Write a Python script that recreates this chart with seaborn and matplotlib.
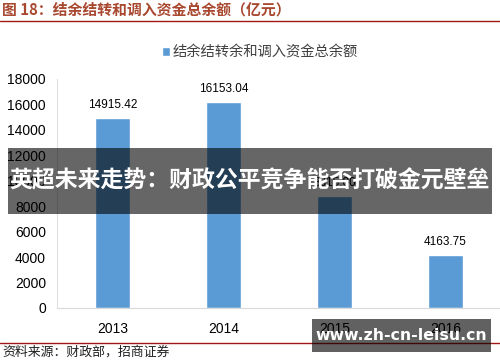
import matplotlib
matplotlib.use("Agg")
import matplotlib.pyplot as plt
import seaborn as sns
import pandas as pd
from matplotlib.patches import Rectangle
from matplotlib.lines import Line2D

years = ["2013", "2014", "2015", "2016"]
values = [14915.42, 16153.04, 8815.00, 4163.75]
series_name = "结余结转余和调入资金总余额"
yticks = [0, 2000, 4000, 6000, 8000, 10000, 12000, 14000, 16000, 18000]
title = "图 18：结余结转和调入资金总余额（亿元）"
source = "资料来源：财政部，招商证券"
banner = "英超未来走势：财政公平竞争能否打破金元壁垒"
watermark = "www.zh-cn-leisu.cn"

sns.set_theme(style="white")
plt.rcParams['font.family'] = ['Liberation Sans', 'Noto Sans CJK SC', 'DejaVu Sans']
CJK = ['Noto Sans CJK SC', 'DejaVu Sans']

df = pd.DataFrame({"year": years, "value": values, "series": [series_name] * len(years)})

fig = plt.figure(figsize=(5.0, 3.62), dpi=100)
ax = fig.add_axes([0.114, 0.1492, 0.886, 0.6326])

bar_color = "#5b9bd5"
sns.barplot(data=df, x="year", y="value", hue="series", palette=[bar_color],
            width=0.31, dodge=False, ax=ax, legend=True, saturation=1)

ax.set_xlim(-0.5, 3.49)
ax.set_ylim(0, 18000)
ax.set_yticks(yticks)
ax.set_yticklabels([str(v) for v in yticks], fontsize=10, color="#000000")
ax.set_xlabel("")
ax.set_ylabel("")
ax.tick_params(axis="x", length=0, labelsize=10, pad=10, colors="#000000")
ax.tick_params(axis="y", length=0, pad=8)
ax.set_xticks([-0.5, 0.5, 1.5, 2.5], minor=True)
ax.tick_params(axis="x", which="minor", length=4, width=0.8, color="#d9d9d9", direction="out")
for s in ["top", "right"]:
    ax.spines[s].set_visible(False)
ax.spines["left"].set_color("#e0e0e0")
ax.spines["bottom"].set_color("#d9d9d9")
ax.spines["left"].set_linewidth(0.8)
ax.spines["bottom"].set_linewidth(0.8)

for i, v in enumerate(values):
    ax.text(i, v + 550, f"{v:.2f}", ha="center", va="bottom", fontsize=8.5, color="#000000")

leg = ax.legend(loc="center", bbox_to_anchor=(0.458, 1.114), frameon=False,
                handlelength=0.6, handleheight=0.6, handletextpad=0.2,
                prop={'family': CJK, 'size': 10.3})
for t in leg.get_texts():
    t.set_color("#404040")

# title and lines
fig.text(0.004, 1 - 10 / 362, title, ha="left", va="center", fontsize=10.7,
         fontweight="bold", color="#a8482f", family=CJK)
fig.add_artist(Line2D([0, 1], [1 - 21 / 362] * 2, color="#a01818", lw=1.0))
fig.add_artist(Line2D([0, 1], [1 - 343 / 362] * 2, color="#a01818", lw=1.0))
fig.text(0.004, 1 - 352 / 362, source, ha="left", va="center", fontsize=9.3,
         color="#202020", family=CJK)

# banner overlay
fig.add_artist(Rectangle((8 / 500, 1 - 214 / 362), 484 / 500, 66 / 362,
                         transform=fig.transFigure, facecolor="black", alpha=0.6,
                         edgecolor="none", zorder=10))
fig.text(250 / 500, 1 - 181 / 362, banner, ha="center", va="center", fontsize=16.5,
         fontweight="bold", color="white", family=CJK, zorder=11)

# watermark
fig.add_artist(Rectangle((312 / 500, 1 - 352 / 362), 179 / 500, 33 / 362,
                         transform=fig.transFigure, facecolor="black", alpha=0.62,
                         edgecolor="none", zorder=10))
fig.text(401 / 500, 1 - 336 / 362, watermark, ha="center", va="center", fontsize=11.3,
         fontweight="bold", color="white", family=['DejaVu Sans'], zorder=11)

fig.savefig("out.png", dpi=100)
